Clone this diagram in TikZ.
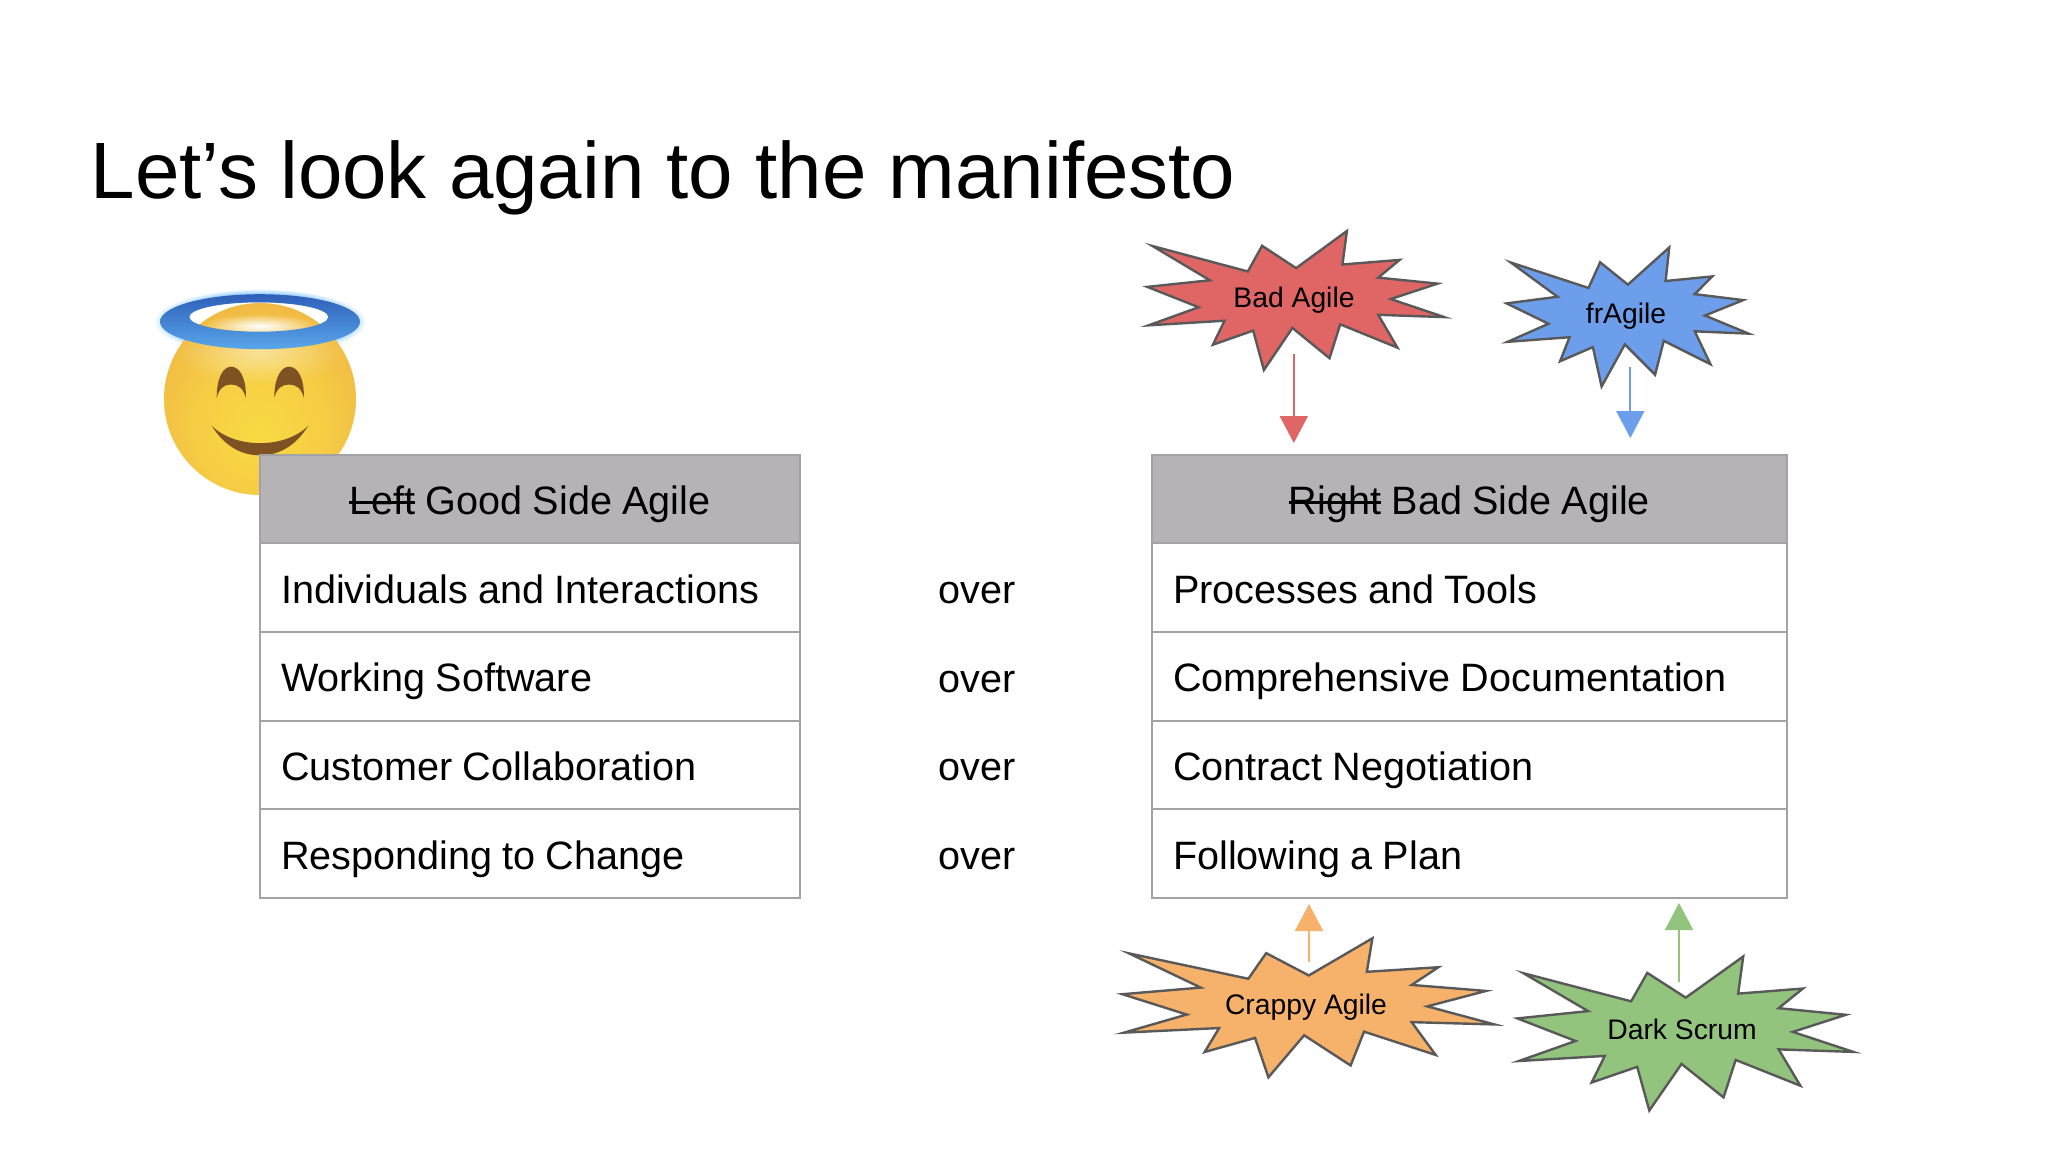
\documentclass[tikz,border=0pt]{standalone}
\usepackage{fontspec}
\setmainfont{Liberation Sans}
\usetikzlibrary{arrows.meta,fadings}
\definecolor{redburst}{HTML}{E06666}
\definecolor{blueburst}{HTML}{6D9EEB}
\definecolor{orangeburst}{HTML}{F6B26B}
\definecolor{greenburst}{HTML}{93C47D}
\definecolor{burstline}{HTML}{595959}
\definecolor{headgrey}{HTML}{B5B3B6}
\definecolor{cellline}{HTML}{A3A2A5}
\definecolor{facebrown}{HTML}{7F5224}
\definecolor{facea}{HTML}{F8DA42}
\definecolor{faceb}{HTML}{F6CE44}
\definecolor{facec}{HTML}{EFB243}
\definecolor{faced}{HTML}{E59A38}
\definecolor{facee}{HTML}{C8702C}
\definecolor{haloa}{HTML}{2F5FB8}
\definecolor{halob}{HTML}{58A6EA}
\pgfdeclareradialshading{facegrad}{\pgfpoint{0bp}{-10bp}}{
	color(0bp)=(facea);
	color(16bp)=(faceb);
	color(36bp)=(facec);
	color(50bp)=(faced);
	color(60bp)=(facee)}
\tikzfading[name=softglow,inner color=transparent!0,outer color=transparent!100]
\newcommand{\strikeword}[1]{\setbox0\hbox{#1}\rlap{\rule[0.27em]{\wd0}{0.07em}}\box0{}}
\tikzset{
	cellbox/.style={draw=cellline,line width=1pt,fill=white,minimum height=44.3pt,outer sep=0pt,
		inner xsep=10.5pt,align=left,text height=17pt,text depth=1.5pt,font=\fontsize{19.8}{24}\selectfont,
		execute at begin node={\spaceskip=0.26em\relax}},
	leftcell/.style={cellbox,text width=249pt},
	rightcell/.style={cellbox,text width=296.5pt},
	lefthead/.style={leftcell,fill=headgrey,align=center},
	righthead/.style={rightcell,fill=headgrey,align=center},
	overlabel/.style={font=\fontsize{19.8}{24}\selectfont},
	burstlabel/.style={font=\fontsize{14.15}{17}\selectfont,inner sep=0pt},
	burstarrow/.style={line width=1pt,draw=#1,-{Triangle[length=13.5pt,width=14pt,color=#1]}}
}
% one star, given by centre, half widths and colour
\newcommand{\burstshape}[5]{
	\begin{scope}[shift={(#1,#2)},xscale=#3/100,yscale=#4/100]
		\filldraw [fill=#5,draw=burstline,line width=1.2pt,line join=miter]
			(34.4,-100) -- (31.4,-51.8) -- (69.9,-58.4) -- (55.5,-32.9) -- (95.5,-24.3)
			-- (63.9,-2.1) -- (100,23.9) -- (55.5,20.6) -- (68.4,67.8) -- (29.9,34.3)
			-- (22.7,83) -- (-2.3,39.5) -- (-21.5,100) -- (-28.7,43.3) -- (-55.8,63.6)
			-- (-48,29.1) -- (-99.1,35.7) -- (-65.4,9.7) -- (-100,-19.6) -- (-57.9,-29.1)
			-- (-96.4,-78.3) -- (-32.3,-41.8) -- (-22.7,-78.7) -- (0.2,-46.6) -- cycle;
	\end{scope}
}
\begin{document}
\begin{tikzpicture}[x=0.5pt,y=-0.5pt]
	\useasboundingbox (0,0) rectangle (2048,1152);
	\fill [white] (0,0) rectangle (2048,1152);

	\node [anchor=base west,inner sep=0pt,font=\fontsize{39.95}{48}\selectfont] (title) at (90.5,198) {Let’s look again to the manifesto};

	% halo glow, face, eyes, mouth, halo
	\fill [blue!45!cyan!40!white,path fading=circle with fuzzy edge 15 percent] (260,321.7) ellipse (106 and 33);
	\fill [white] (258.8,317) ellipse (69.5 and 14.7);
	\shade [shading=facegrad] (260,399) circle (96);
	\fill [white,opacity=0.45,path fading=softglow] (260,352) ellipse (84 and 32);
	\fill [white,path fading=softglow] (260,326) ellipse (58 and 12);
	\fill [facebrown] (216.7,397.7) .. controls (216.7,376) and (224,366.7) .. (231,366.7)
		.. controls (239,366.7) and (246,376) .. (246,397.7)
		.. controls (243,388) and (238,384.5) .. (231,384.5)
		.. controls (224,384.5) and (219.5,388) .. (216.7,397.7) -- cycle;
	\fill [facebrown] (274.3,397.7) .. controls (274.3,376) and (282,366.7) .. (289,366.7)
		.. controls (297,366.7) and (304,376) .. (304,397.7)
		.. controls (301,388) and (296,384.5) .. (289,384.5)
		.. controls (282,384.5) and (277,388) .. (274.3,397.7) -- cycle;
	\fill [facebrown] (211.7,425.7) .. controls (235,449) and (285,449) .. (308.3,425.7)
		.. controls (295,447) and (278,455.3) .. (260,455.3)
		.. controls (242,455.3) and (225,447) .. (211.7,425.7) -- cycle;
	\shade [top color=haloa,bottom color=halob,even odd rule]
		(260,321.7) ellipse (100 and 27.5) (258.8,317) ellipse (69.5 and 14.7);

	% left table
	\node [lefthead] (lefttop) at (530,499) {\strikeword{Left} Good Side Agile};
	\node [leftcell] (left1) at (530,587.7) {Individuals and Interactions};
	\node [leftcell] (left2) at (530,676.3) {Working Software};
	\node [leftcell] (left3) at (530,765) {Customer Collaboration};
	\node [leftcell] (left4) at (530,853.6) {Responding to Change};

	% right table
	\node [righthead] (righttop) at (1469.5,499) {\strikeword{Right} Bad Side Agile};
	\node [rightcell] (right1) at (1469.5,587.7) {Processes and Tools};
	\node [rightcell] (right2) at (1469.5,676.3) {Comprehensive Documentation};
	\node [rightcell] (right3) at (1469.5,765) {Contract Negotiation};
	\node [rightcell] (right4) at (1469.5,853.6) {Following a Plan};

	\node [overlabel] (over1) at (977,593) {over};
	\node [overlabel] (over2) at (977,681.6) {over};
	\node [overlabel] (over3) at (977,770.2) {over};
	\node [overlabel] (over4) at (977,858.8) {over};

	% stars
	\burstshape{1295.8}{300.5}{148.5}{69.5}{redburst}
	\burstshape{1627.6}{317}{121}{69.5}{blueburst}
	\burstshape{1308.4}{1007.8}{186}{69.5}{orangeburst}
	\burstshape{1685.4}{1033.5}{168}{77}{greenburst}

	\node [burstlabel] (bad) at (1294,300) {Bad Agile};
	\node [burstlabel] (fragile) at (1626,316) {frAgile};
	\node [burstlabel] (crappy) at (1306,1007) {Crappy Agile};
	\node [burstlabel] (dark) at (1682,1029) {Dark Scrum};

	\coordinate (badfrom) at (1293.8,354);
	\coordinate (badto) at (1293.8,443);
	\coordinate (fragilefrom) at (1630.3,367);
	\coordinate (fragileto) at (1630.3,438);
	\coordinate (crappyfrom) at (1309,962);
	\coordinate (crappyto) at (1309,904);
	\coordinate (darkfrom) at (1679,982);
	\coordinate (darkto) at (1679,903);

	\draw [burstarrow=redburst] (badfrom) -- (badto);
	\draw [burstarrow=blueburst] (fragilefrom) -- (fragileto);
	\draw [burstarrow=orangeburst] (crappyfrom) -- (crappyto);
	\draw [burstarrow=greenburst] (darkfrom) -- (darkto);
\end{tikzpicture}
\end{document}
